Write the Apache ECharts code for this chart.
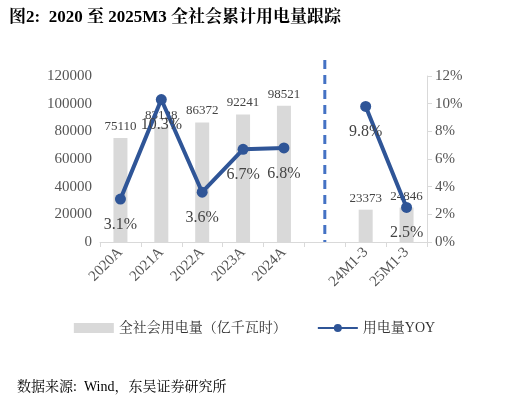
<!DOCTYPE html><html><head><meta charset="utf-8"><script src="https://cdn.jsdelivr.net/npm/echarts@6/dist/echarts.min.js"></script>
<style>body{margin:0}#c{width:509px;height:402px}</style></head><body><div id="c"></div><script>
const categories=['2020A','2021A','2022A','2023A','2024A','','24M1-3','25M1-3'];
const consumption=[75110,83128,86372,92241,98521,null,23373,24846];
const yoy=[3.1,10.3,3.6,6.7,6.8,null,9.8,2.5];
const serif='"Liberation Serif","Noto Serif CJK SC","Noto Sans CJK SC",serif';
const ch=echarts.init(document.getElementById('c'));
ch.setOption({animation:false,
title:[{text:'图2:  2020 至 2025M3 全社会累计用电量跟踪',left:4,top:4,textStyle:{fontFamily:serif,fontSize:17,fontWeight:'bold',color:'#000'}},
{text:'数据来源:  Wind，东吴证券研究所',left:12,top:375,textStyle:{fontFamily:serif,fontSize:14,fontWeight:'normal',color:'#000'}}],
grid:{left:100,right:82,top:76,bottom:160},
legend:{bottom:62,left:'center',itemGap:30,textStyle:{fontFamily:serif,fontSize:14,color:'#333'},data:[{name:'全社会用电量（亿千瓦时）',icon:'rect',itemStyle:{color:'#d9d9d9'}},{name:'用电量YOY'}],itemWidth:40,itemHeight:10},
xAxis:{type:'category',data:categories,axisTick:{show:true,lineStyle:{color:'#d9d9d9'}},axisLine:{lineStyle:{color:'#d9d9d9'}},axisLabel:{rotate:45,interval:0,fontFamily:serif,fontSize:15,color:'#555'}},
yAxis:[{type:'value',min:0,max:120000,interval:20000,splitLine:{show:false},axisLine:{show:false},axisLabel:{formatter:v=>String(v),fontFamily:serif,fontSize:15,color:'#555'}},
{type:'value',min:0,max:12,interval:2,splitLine:{show:false},axisLine:{show:true,lineStyle:{color:'#d9d9d9'}},axisTick:{show:true,lineStyle:{color:'#d9d9d9'}},axisLabel:{formatter:'{value}%',fontFamily:serif,fontSize:15,color:'#555'}}],
series:[{name:'全社会用电量（亿千瓦时）',type:'bar',data:consumption,barWidth:14,itemStyle:{color:'#d9d9d9'},label:{show:true,position:'top',fontFamily:serif,fontSize:13,color:'#444'}},
{name:'用电量YOY',type:'line',yAxisIndex:1,data:yoy,connectNulls:false,symbol:'circle',symbolSize:11,lineStyle:{width:4,color:'#2f5597'},itemStyle:{color:'#2f5597'},label:{show:true,position:'bottom',distance:12,formatter:p=>p.value.toFixed(1)+'%',fontFamily:serif,fontSize:16,color:'#444'}}]
});
const x=ch.convertToPixel({xAxisIndex:0},5);
const yb=ch.convertToPixel({yAxisIndex:0},0);
ch.setOption({graphic:[{type:'line',shape:{x1:x,y1:60,x2:x,y2:yb},style:{stroke:'#4472c4',lineWidth:3,lineDash:[9,6]}}]});
</script></body></html>
